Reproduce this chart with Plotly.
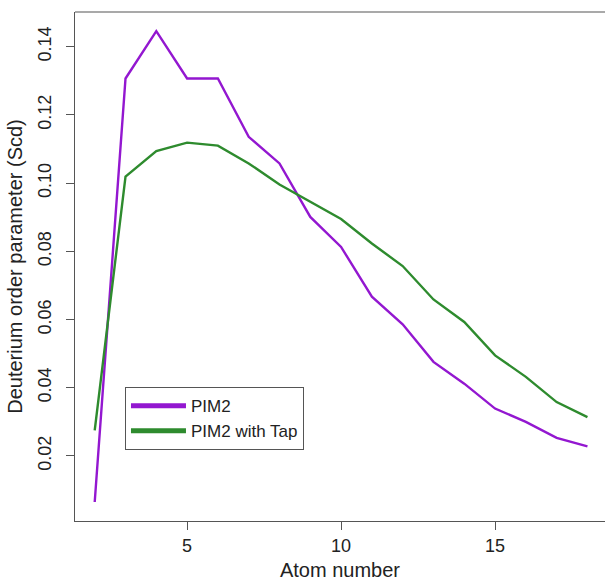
import plotly.graph_objects as go

atom_number = [2, 3, 4, 5, 6, 7, 8, 9, 10, 11, 12, 13, 14, 15, 16, 17, 18]
pim2 = [0.0065, 0.1307, 0.1446, 0.1307, 0.1307, 0.1136, 0.1058, 0.0901, 0.0813,
        0.0667, 0.0586, 0.0476, 0.0412, 0.0339, 0.0300, 0.0253, 0.0228]
pim2_tap = [0.0275, 0.1019, 0.1094, 0.1119, 0.1110, 0.1058, 0.0996, 0.0945, 0.0895,
            0.0823, 0.0757, 0.0659, 0.0593, 0.0495, 0.0432, 0.0358, 0.0314]
series_names = ["PIM2", "PIM2 with Tap"]
x_ticks = [5, 10, 15]
y_ticks = [0.02, 0.04, 0.06, 0.08, 0.10, 0.12, 0.14]
y_tick_labels = ["0.02", "0.04", "0.06", "0.08", "0.10", "0.12", "0.14"]

purple = "#9317D0"
green = "#2E8B2E"
font = "Liberation Sans, Arial, sans-serif"

fig = go.Figure()
fig.add_trace(go.Scatter(x=atom_number, y=pim2, mode="lines", showlegend=False,
                         line=dict(color=purple, width=2.4)))
fig.add_trace(go.Scatter(x=atom_number, y=pim2_tap, mode="lines", showlegend=False,
                         line=dict(color=green, width=2.4)))
# legend entries with thicker line samples
fig.add_trace(go.Scatter(x=[None], y=[None], mode="lines", name=series_names[0],
                         line=dict(color=purple, width=5)))
fig.add_trace(go.Scatter(x=[None], y=[None], mode="lines", name=series_names[1],
                         line=dict(color=green, width=5)))

axis_color = "#555555"
fig.update_layout(
    width=605, height=583,
    margin=dict(l=75, r=0, t=12, b=62),
    paper_bgcolor="white", plot_bgcolor="white",
    font=dict(family=font, size=18, color="#222222"),
    xaxis=dict(range=[1.36, 18.57], tickvals=x_ticks, ticks="outside", ticklen=8,
               tickcolor=axis_color, showline=True, linecolor=axis_color, linewidth=1.2,
               showgrid=False, zeroline=False, automargin=False,
               title=dict(text="Atom number", font=dict(size=20), standoff=8),
               tickfont=dict(size=18)),
    yaxis=dict(range=[0.00093, 0.1502], tickvals=y_ticks, ticktext=y_tick_labels,
               ticks="outside", ticklen=8, tickcolor=axis_color, tickangle=-90,
               ticklabelstandoff=8,
               showline=True, linecolor=axis_color, linewidth=1.2,
               showgrid=False, zeroline=False, automargin=False,
               title=dict(text="Deuterium order parameter (Scd)", font=dict(size=20), standoff=6),
               tickfont=dict(size=18)),
    legend=dict(x=0.0943, y=0.263, xanchor="left", yanchor="top",
                bordercolor=axis_color, borderwidth=1, bgcolor="white",
                font=dict(size=17), tracegroupgap=0, itemwidth=55),
    shapes=[dict(type="line", xref="paper", yref="paper", x0=0, x1=1, y0=1, y1=1,
                 line=dict(color=axis_color, width=1.2))],
)

fig.write_html("out.html", config={"displayModeBar": False},
               post_script="document.body.style.margin='0';")
